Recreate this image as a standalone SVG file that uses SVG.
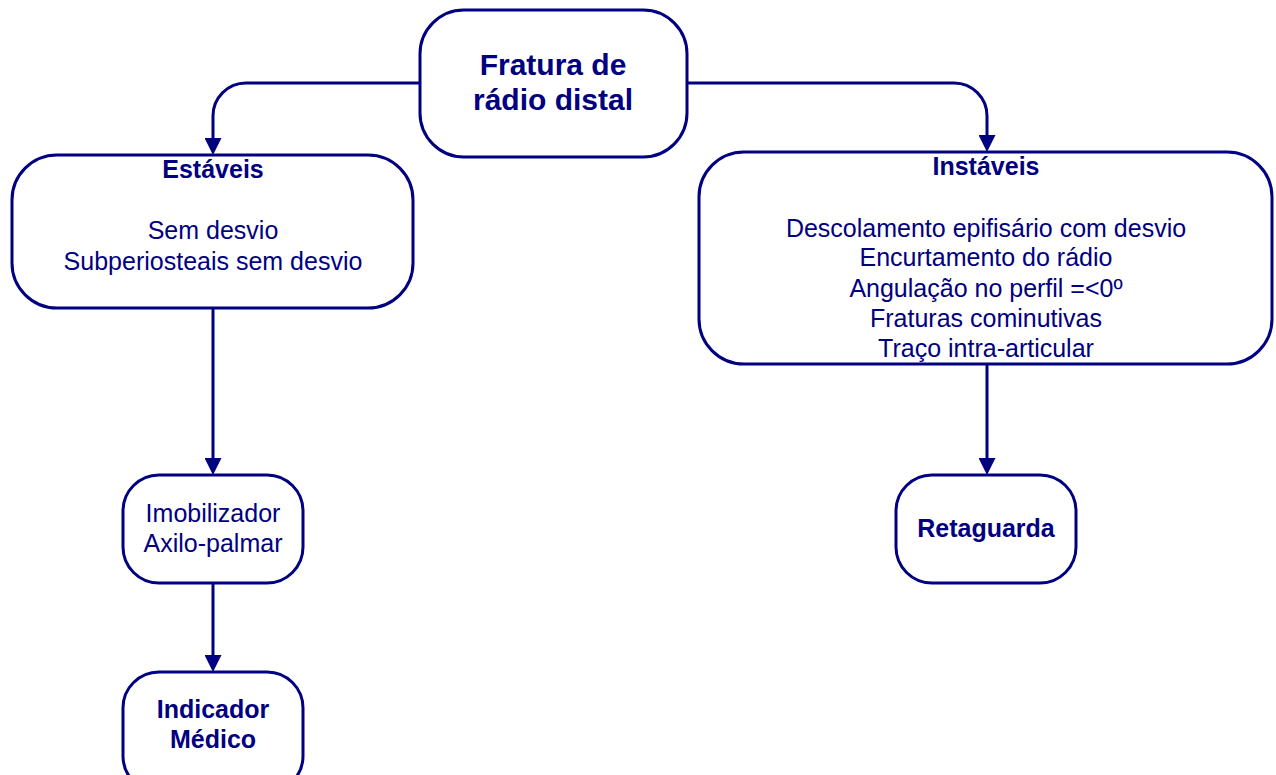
<svg xmlns="http://www.w3.org/2000/svg" width="1276" height="775" viewBox="0 0 1276 775">
<style>
.box{fill:#fff;stroke:#000080;stroke-width:3}
.t{font-family:"Liberation Sans",Arial,sans-serif;fill:#000080;text-anchor:middle;font-size:25px}
.b{font-weight:bold}
.conn{fill:none;stroke:#000080;stroke-width:3}
</style>
<defs>
<marker id="arr" markerUnits="userSpaceOnUse" markerWidth="17" markerHeight="17" refX="7" refY="8.5" orient="auto">
<path d="M0,0 L17,8.5 L0,17 z" fill="#000080"/>
</marker>
</defs>
<rect width="1276" height="775" fill="#fff"/>
<g id="connectors">
<path class="conn" d="M420,83 H246 A33,33 0 0 0 213,116 V145" marker-end="url(#arr)"/>
<path class="conn" d="M687,83 H954 A33,33 0 0 1 987,116 V142" marker-end="url(#arr)"/>
<path class="conn" d="M213,308 V465" marker-end="url(#arr)"/>
<path class="conn" d="M213,583 V662" marker-end="url(#arr)"/>
<path class="conn" d="M987,364 V465" marker-end="url(#arr)"/>
</g>
<g id="node-fratura">
<rect class="box" x="420" y="10" width="267" height="147" rx="44"/>
<text class="t b" x="553" y="75" style="font-size:30px">Fratura de</text>
<text class="t b" x="553" y="110" style="font-size:30px">rádio distal</text>
</g>
<g id="node-estaveis">
<rect class="box" x="12" y="155" width="401" height="153" rx="45"/>
<text class="t b" x="213" y="178">Estáveis</text>
<text class="t" x="213" y="239">Sem desvio</text>
<text class="t" x="213" y="270">Subperiosteais sem desvio</text>
</g>
<g id="node-instaveis">
<rect class="box" x="699" y="152" width="573" height="212" rx="45"/>
<text class="t b" x="986" y="175">Instáveis</text>
<text class="t" x="986" y="237">Descolamento epifisário com desvio</text>
<text class="t" x="986" y="266">Encurtamento do rádio</text>
<text class="t" x="986" y="297">Angulação no perfil =&lt;0º</text>
<text class="t" x="986" y="327">Fraturas cominutivas</text>
<text class="t" x="986" y="357">Traço intra-articular</text>
</g>
<g id="node-imobilizador">
<rect class="box" x="123" y="475" width="180" height="108" rx="36"/>
<text class="t" x="213" y="522">Imobilizador</text>
<text class="t" x="213" y="552">Axilo-palmar</text>
</g>
<g id="node-indicador">
<rect class="box" x="123" y="672" width="180" height="120" rx="36"/>
<text class="t b" x="213" y="718">Indicador</text>
<text class="t b" x="213" y="748">Médico</text>
</g>
<g id="node-retaguarda">
<rect class="box" x="896" y="475" width="180" height="108" rx="36"/>
<text class="t b" x="986" y="537">Retaguarda</text>
</g>
</svg>
